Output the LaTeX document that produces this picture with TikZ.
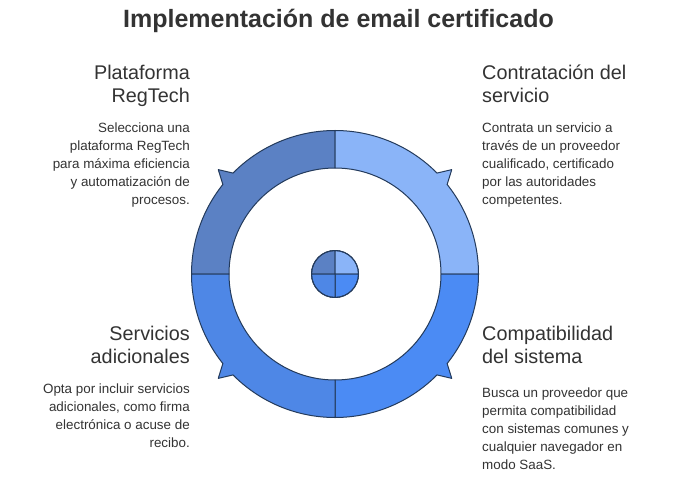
\documentclass[tikz,border=0pt]{standalone}
\usepackage{fontspec}
\setmainfont{Liberation Sans}
\definecolor{cTL}{HTML}{5B81C4}
\definecolor{cTR}{HTML}{8AB4F8}
\definecolor{cBR}{HTML}{4B8BF4}
\definecolor{cBL}{HTML}{4E87E6}
\definecolor{edge}{HTML}{243B5C}
\definecolor{txt}{HTML}{333333}
\tikzset{
  seg/.style={draw=edge, line width=1pt, line join=round},
  head/.style={font=\fontsize{19.8}{23.5}\selectfont, text=txt, inner sep=0pt},
  body/.style={font=\fontsize{13.4}{18}\selectfont, text=txt, inner sep=0pt},
}
\begin{document}
\begin{tikzpicture}[x=1pt,y=1pt]
\useasboundingbox (0,0) rectangle (684,477);
\fill[white] (0,0) rectangle (684,477);
\node[font=\fontsize{25}{28}\selectfont\bfseries, text=txt, inner sep=0pt] (title) at (338.5,456.5) {Implementación de email certificado};
\begin{scope}[shift={(335,203)}]
\def\R{143.5}\def\r{106}
% top-left
\path[seg, fill=cTL] (90:\R) arc[start angle=90, end angle=135.3, radius=\R] -- (138.2:156.6) -- (141.4:\R) arc[start angle=141.4, end angle=180, radius=\R] -- (180:\r) arc[start angle=180, end angle=90, radius=\r] -- cycle;
% top-right
\path[seg, fill=cTR] (0:\R) arc[start angle=0, end angle=38.6, radius=\R] -- (41.8:156.6) -- (44.7:\R) arc[start angle=44.7, end angle=90, radius=\R] -- (90:\r) arc[start angle=90, end angle=0, radius=\r] -- cycle;
% bottom-right
\path[seg, fill=cBR] (-90:\R) arc[start angle=-90, end angle=-44.7, radius=\R] -- (-41.8:156.6) -- (-38.6:\R) arc[start angle=-38.6, end angle=0, radius=\R] -- (0:\r) arc[start angle=0, end angle=-90, radius=\r] -- cycle;
% bottom-left
\path[seg, fill=cBL] (180:\R) arc[start angle=180, end angle=218.6, radius=\R] -- (221.8:156.6) -- (224.7:\R) arc[start angle=224.7, end angle=270, radius=\R] -- (270:\r) arc[start angle=270, end angle=180, radius=\r] -- cycle;
% center circle
\def\c{23.5}
\path[seg, fill=cTL] (0,0) -- (90:\c) arc[start angle=90, end angle=180, radius=\c] -- cycle;
\path[seg, fill=cTR] (0,0) -- (0:\c) arc[start angle=0, end angle=90, radius=\c] -- cycle;
\path[seg, fill=cBR] (0,0) -- (-90:\c) arc[start angle=-90, end angle=0, radius=\c] -- cycle;
\path[seg, fill=cBL] (0,0) -- (180:\c) arc[start angle=180, end angle=270, radius=\c] -- cycle;
\draw[seg] (0,0) circle[radius=\c];
\end{scope}
% texts
\node[head, align=right, anchor=north east] (h1) at (190,412.5) {Plataforma\\RegTech};
\node[body, align=right, anchor=north east] (b1) at (190,354) {Selecciona una\\plataforma RegTech\\para máxima eficiencia\\y automatización de\\procesos.};
\node[head, align=left, anchor=north west] (h2) at (482,412.5) {Contratación del\\servicio};
\node[body, align=left, anchor=north west] (b2) at (482,354) {Contrata un servicio a\\través de un proveedor\\cualificado, certificado\\por las autoridades\\competentes.};
\node[head, align=right, anchor=north east] (h3) at (190,151.5) {Servicios\\adicionales};
\node[body, align=right, anchor=north east] (b3) at (190,93) {Opta por incluir servicios\\adicionales, como firma\\electrónica o acuse de\\recibo.};
\node[head, align=left, anchor=north west] (h4) at (482,151.5) {Compatibilidad\\del sistema};
\node[body, align=left, anchor=north west] (b4) at (482,89) {Busca un proveedor que\\permita compatibilidad\\con sistemas comunes y\\cualquier navegador en\\modo SaaS.};
\end{tikzpicture}
\end{document}
